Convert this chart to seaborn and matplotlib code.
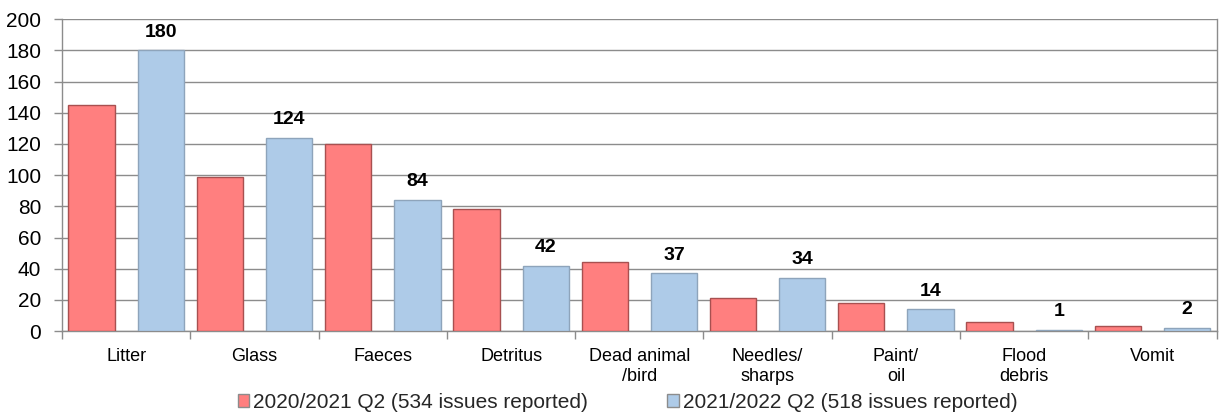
import pandas as pd
import matplotlib.pyplot as plt
import seaborn as sns

# Issues reported per category
categories = ["Litter", "Glass", "Faeces", "Detritus", "Dead animal\n/bird",
              "Needles/\nsharps", "Paint/\noil", "Flood\ndebris", "Vomit"]
q2_2020 = [145, 99, 120, 78, 44, 21, 18, 6, 3]
q2_2021 = [180, 124, 84, 42, 37, 34, 14, 1, 2]
series_names = ["2020/2021 Q2 (534 issues reported)", "2021/2022 Q2 (518 issues reported)"]

df = pd.DataFrame({
    "category": categories * 2,
    "count": q2_2020 + q2_2021,
    "period": [series_names[0]] * len(categories) + [series_names[1]] * len(categories),
})

sns.set_theme(style="white")
plt.rcParams['font.family'] = ['Liberation Sans', 'DejaVu Sans']

fig = plt.figure(figsize=(12.19, 4.16), dpi=100)
ax = fig.add_axes([0.051, 0.204, 0.947, 0.750])

red = "#ff7f7f"
blue = "#aecbe8"
sns.barplot(
    data=df, x="category", y="count", hue="period",
    palette=[red, blue], saturation=1, width=1.08, gap=0.33,
    ax=ax, zorder=3
)

# edges like the original
for bar_container, ec in zip(ax.containers, ["#a85050", "#8ea4bb"]):
    for p in bar_container:
        p.set_edgecolor(ec)
        p.set_linewidth(1.0)

# value labels on the newer series only
ax.bar_label(ax.containers[1], labels=[str(v) for v in q2_2021], padding=7,
             fontsize=14, fontweight='bold', color='black')

ax.set_ylim(0, 200)
ax.set_xlim(-0.5, len(categories) - 0.5)
ax.set_yticks(range(0, 201, 20))
ax.yaxis.grid(True, color="#8c8c8c", linewidth=1.0, zorder=0)
ax.set_axisbelow(True)
ax.set_xlabel("")
ax.set_ylabel("")

# tick marks between the categories
ax.set_xticks([i - 0.5 for i in range(len(categories) + 1)], minor=True)
ax.tick_params(axis='x', which='minor', length=6, color="#8c8c8c", width=1, direction='out', bottom=True)
ax.tick_params(axis='x', which='major', length=0, labelsize=13, pad=12, colors='black')
for t in ax.get_xticklabels():
    t.set_linespacing(1.25)
ax.tick_params(axis='y', length=6, color="#8c8c8c", width=1, direction='out', left=True,
               labelsize=15, colors='black', pad=9)

for s in ax.spines.values():
    s.set_color("#8c8c8c")
    s.set_linewidth(1.0)
ax.spines['top'].set_visible(False)

leg = ax.legend(loc='center', bbox_to_anchor=(0.515, 0.033), bbox_transform=fig.transFigure,
                ncol=2, frameon=False, fontsize=15, handlelength=0.55, handleheight=0.55,
                handletextpad=0.2, columnspacing=3.8, borderpad=0)
for h in leg.legend_handles:
    h.set_edgecolor("#8c8c8c")

plt.savefig("out.png", dpi=100)
